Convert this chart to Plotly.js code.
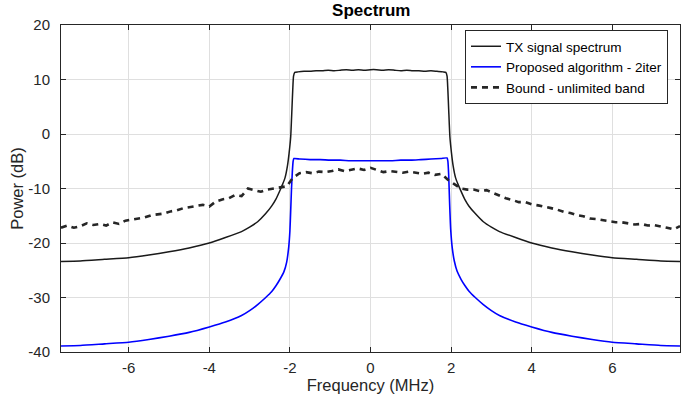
<!DOCTYPE html>
<html>
<head>
<meta charset="utf-8">
<script src="https://cdn.plot.ly/plotly-3.0.1.min.js"></script>
<style>html,body{margin:0;padding:0;background:#fff;}#chart{width:694px;height:406px;}</style>
</head>
<body>
<div id="chart"></div>
<script>
// TX signal spectrum
var txFreq = [-7.68,-7.2,-6.6,-6.0,-5.5,-5.0,-4.5,-4.0,-3.6,-3.2,-3.0,-2.8,-2.6,-2.45,-2.35,-2.25,-2.18,-2.12,-2.06,-2.02,-1.98,-1.95,-1.93,-1.91,-1.88,-1.80,-1.65,-1.50,-1.35,-1.20,-1.05,-0.90,-0.75,-0.60,-0.45,-0.30,-0.15,0,0.15,0.30,0.45,0.60,0.75,0.90,1.05,1.20,1.35,1.50,1.65,1.80,1.87,1.90,1.92,1.94,1.97,2.01,2.05,2.11,2.17,2.24,2.34,2.44,2.6,2.8,3.0,3.2,3.6,4.0,4.5,5.0,5.5,6.0,6.6,7.2,7.68];
var txPower = [-23.4,-23.3,-23.0,-22.7,-22.2,-21.6,-20.9,-20.0,-19.0,-17.9,-17.1,-16.1,-14.6,-13.2,-12.0,-10.4,-9.2,-8.0,-5.8,-3.5,-0.5,4.5,8.0,10.6,11.3,11.4,11.5,11.5,11.6,11.6,11.7,11.6,11.7,11.8,11.7,11.8,11.7,11.8,11.8,11.7,11.8,11.7,11.6,11.7,11.6,11.6,11.5,11.6,11.5,11.4,11.3,10.6,8.0,4.5,-0.5,-3.5,-5.8,-8.0,-9.2,-10.4,-12.0,-13.2,-14.6,-16.1,-17.1,-17.9,-19.0,-20.0,-20.9,-21.6,-22.2,-22.7,-23.0,-23.3,-23.4];

// Proposed algorithm - 2iter
var algFreq = [-7.68,-7.2,-6.6,-6.0,-5.5,-5.0,-4.5,-4.0,-3.6,-3.2,-3.0,-2.8,-2.6,-2.45,-2.35,-2.25,-2.15,-2.08,-2.03,-2.00,-1.98,-1.96,-1.94,-1.92,-1.90,-1.75,-1.5,-1.25,-1.0,-0.75,-0.5,-0.25,0,0.25,0.5,0.75,1.0,1.25,1.5,1.75,1.90,1.92,1.94,1.96,1.99,2.03,2.08,2.15,2.25,2.35,2.45,2.6,2.8,3.0,3.2,3.6,4.0,4.5,5.0,5.5,6.0,6.6,7.2,7.68];
var algPower = [-38.9,-38.8,-38.5,-38.2,-37.7,-37.1,-36.4,-35.4,-34.5,-33.3,-32.4,-31.3,-30.0,-28.9,-27.9,-26.7,-25.3,-23.5,-20.8,-17.8,-14.0,-10.0,-7.0,-5.0,-4.5,-4.6,-4.7,-4.7,-4.8,-4.8,-4.9,-4.9,-4.9,-4.9,-4.9,-4.8,-4.8,-4.7,-4.6,-4.5,-4.4,-5.0,-7.5,-12.0,-17.5,-21.0,-23.3,-25.2,-26.7,-27.9,-28.9,-30.0,-31.3,-32.4,-33.3,-34.5,-35.4,-36.4,-37.1,-37.7,-38.2,-38.5,-38.8,-38.9];

// Bound - unlimited band
var boundFreq = [-7.68,-7.52,-7.36,-7.20,-7.04,-6.88,-6.72,-6.56,-6.40,-6.24,-6.08,-5.92,-5.76,-5.60,-5.44,-5.28,-5.12,-4.96,-4.80,-4.64,-4.48,-4.32,-4.16,-4.00,-3.84,-3.68,-3.52,-3.36,-3.20,-3.04,-2.88,-2.72,-2.56,-2.40,-2.24,-2.08,-1.92,-1.76,-1.60,-1.44,-1.28,-1.12,-0.96,-0.80,-0.64,-0.48,-0.32,-0.16,0,0.16,0.32,0.48,0.64,0.80,0.96,1.12,1.28,1.44,1.60,1.76,1.92,2.08,2.24,2.40,2.56,2.72,2.88,3.04,3.20,3.36,3.52,3.68,3.84,4.00,4.16,4.32,4.48,4.64,4.80,4.96,5.12,5.28,5.44,5.60,5.76,5.92,6.08,6.24,6.40,6.56,6.72,6.88,7.04,7.20,7.36,7.52,7.68];
var boundPower = [-17.2,-16.8,-17.2,-16.9,-16.4,-16.7,-16.5,-16.8,-16.2,-16.5,-15.9,-15.7,-15.4,-15.3,-14.9,-14.7,-14.6,-14.2,-14.0,-13.6,-13.4,-13.3,-13.0,-13.3,-12.4,-12.0,-11.8,-11.2,-11.4,-10.0,-10.3,-10.6,-10.2,-10.0,-9.9,-9.6,-8.0,-7.2,-7.0,-7.2,-6.9,-7.0,-6.8,-6.5,-6.8,-6.5,-6.3,-6.6,-6.2,-6.6,-7.0,-6.8,-6.9,-7.1,-6.9,-7.1,-7.3,-7.1,-7.5,-7.3,-8.4,-9.2,-10.0,-10.2,-10.2,-10.5,-10.3,-10.8,-11.3,-11.8,-12.1,-12.5,-12.5,-12.9,-13.1,-13.3,-13.6,-13.9,-14.3,-14.5,-14.9,-15.1,-15.5,-15.6,-15.8,-15.9,-16.2,-16.2,-16.4,-16.6,-16.5,-16.8,-16.7,-16.9,-17.2,-17.5,-16.9];

var xTicks = [-6,-4,-2,0,2,4,6];
var yTicks = [-40,-30,-20,-10,0,10,20];

var FONT = '"Liberation Sans", Arial, Helvetica, sans-serif';
var AX = '#262626';

var traces = [
  {x: txFreq, y: txPower, type: 'scatter', mode: 'lines', name: 'TX signal spectrum',
   line: {color: '#1a1a1a', width: 1.5, shape: 'spline', smoothing: 0.5}},
  {x: algFreq, y: algPower, type: 'scatter', mode: 'lines', name: 'Proposed algorithm - 2iter',
   line: {color: '#0000ff', width: 1.6, shape: 'spline', smoothing: 0.5}},
  {x: boundFreq, y: boundPower, type: 'scatter', mode: 'lines', name: 'Bound - unlimited band',
   line: {color: '#262626', width: 2.6, dash: '6px,5px'}}
];

var axisCommon = {
  showline: true, mirror: 'ticks', linecolor: AX, linewidth: 1,
  ticks: 'inside', ticklen: 5, tickcolor: AX, tickwidth: 1,
  showgrid: true, gridcolor: '#dfdfdf', gridwidth: 1,
  zeroline: false,
  tickfont: {family: FONT, size: 15, color: AX}
};

var layout = {
  width: 694, height: 406,
  margin: {l: 61, r: 14, t: 25, b: 54},
  paper_bgcolor: '#ffffff', plot_bgcolor: '#ffffff',
  font: {family: FONT, color: AX},
  title: {text: '<b>Spectrum</b>', font: {family: FONT, size: 17, color: '#000'},
          x: 0.535, xanchor: 'center', y: 0.976, yanchor: 'middle', yref: 'container'},
  xaxis: Object.assign({}, axisCommon, {
    range: [-7.68, 7.68], tickvals: xTicks, ticktext: xTicks.map(String),
    ticklabelstandoff: 2,
    title: {text: 'Frequency (MHz)', font: {family: FONT, size: 16.5, color: AX}, standoff: 0}
  }),
  yaxis: Object.assign({}, axisCommon, {
    range: [-40, 20], tickvals: yTicks, ticktext: yTicks.map(String),
    ticklabelstandoff: 7,
    title: {text: 'Power (dB)', font: {family: FONT, size: 16.5, color: AX}, standoff: 0}
  }),
  legend: {
    x: 0.9806, xanchor: 'right', y: 0.9847, yanchor: 'top',
    bgcolor: '#ffffff', bordercolor: AX, borderwidth: 1,
    font: {family: FONT, size: 13.5, color: '#000'},
    tracegroupgap: 0, itemwidth: 30
  },
  showlegend: true
};

Plotly.newPlot('chart', traces, layout, {displayModeBar: false, staticPlot: true});
</script>
</body>
</html>
